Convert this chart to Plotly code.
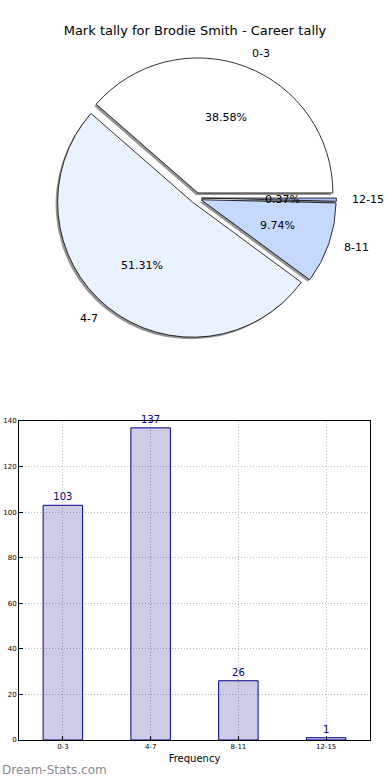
import math
import plotly.graph_objects as go

W, H = 390, 780
FONT = "DejaVu Sans"

# ---- data ----
categories = ["0-3", "4-7", "8-11", "12-15"]
counts = [103, 137, 26, 1]
pie_colors = ["#ffffff", "#ebf2ff", "#c5d9ff", "#a9c4ff"]
title_text = "Mark tally for Brodie Smith - Career tally"
y_ticks = [0, 20, 40, 60, 80, 100, 120, 140]

def X(px):
    return px / W

def Y(py):
    return 1 - py / H

total = sum(counts)
# matplotlib-style: first wedge starts at 3 o'clock, going counterclockwise
rot = 90 - 360 * counts[0] / total

# ---- pie geometry (window pixels) ----
cx, cy, R, pull = 196, 198, 135, 0.04
box = 2 * R * (1 + pull)
dom_x = [X(cx - box / 2), X(cx + box / 2)]
dom_y = [Y(cy + box / 2), Y(cy - box / 2)]
sx, sy = 2, 2  # shadow offset (left, down)
sdom_x = [X(cx - sx - box / 2), X(cx - sx + box / 2)]
sdom_y = [Y(cy + sy + box / 2), Y(cy + sy - box / 2)]

fig = go.Figure()

fig.add_trace(go.Pie(
    labels=categories, values=counts, sort=False, direction="counterclockwise",
    rotation=rot, pull=[pull] * len(counts), textinfo="none", hoverinfo="skip",
    marker=dict(colors=["rgba(60,60,60,0.55)"] * len(counts), line=dict(width=0)),
    domain=dict(x=sdom_x, y=sdom_y), showlegend=False,
))
fig.add_trace(go.Pie(
    labels=categories, values=counts, sort=False, direction="counterclockwise",
    rotation=rot, pull=[pull] * len(counts), textinfo="none", hoverinfo="skip",
    marker=dict(colors=pie_colors, line=dict(color="black", width=0.8)),
    domain=dict(x=dom_x, y=dom_y), showlegend=False,
))

annotations = []
start = 0.0
for lab, v in zip(categories, counts):
    frac = v / total
    mid = (start + frac / 2) * 2 * math.pi
    start += frac
    c, s = math.cos(mid), math.sin(mid)
    off = pull * R
    lx = cx + (1.1 * R + off) * c
    ly = cy - (1.1 * R + off) * s
    annotations.append(dict(
        x=X(lx), y=Y(ly), xref="paper", yref="paper", text=lab, showarrow=False,
        xanchor="left" if c > 0 else "right", yanchor="middle",
        font=dict(family=FONT, size=11, color="black"),
    ))
    px_ = cx + (0.6 * R + off) * c
    py_ = cy - (0.6 * R + off) * s
    annotations.append(dict(
        x=X(px_), y=Y(py_), xref="paper", yref="paper", text=f"{frac*100:.2f}%",
        showarrow=False, xanchor="center", yanchor="middle",
        font=dict(family=FONT, size=11, color="black"),
    ))

annotations.append(dict(
    x=X(0), y=Y(770), xref="paper", yref="paper", text="Dream-Stats.com",
    showarrow=False, xanchor="left", yanchor="middle",
    font=dict(family=FONT, size=12, color="#8c8c8c"),
))

# ---- bar chart ----
fig.add_trace(go.Bar(
    x=categories, y=counts, width=0.45, text=[str(v) for v in counts],
    textposition="outside", cliponaxis=False,
    textfont=dict(family=FONT, size=10, color="#00008b"),
    marker=dict(color="rgba(0,0,128,0.2)", line=dict(color="#00008b", width=1)),
    hoverinfo="skip", showlegend=False,
))

grid = dict(showgrid=True, gridcolor="#b8b8b8", griddash="1px,2px", gridwidth=1)
fig.update_layout(
    width=W, height=H, margin=dict(l=0, r=0, t=0, b=0, autoexpand=False),
    paper_bgcolor="white", plot_bgcolor="white",
    font=dict(family=FONT, color="black"),
    title=dict(text=title_text, x=X(195), xanchor="center", yref="paper",
               y=Y(30), yanchor="middle", font=dict(family=FONT, size=13, color="black")),
    annotations=annotations,
    xaxis=dict(domain=[X(19), X(370)], anchor="y", range=[-0.5, 3.5], automargin=False,
               showline=True, mirror=True, linecolor="black", linewidth=1,
               ticks="inside", ticklen=4, tickcolor="black",
               tickfont=dict(family=FONT, size=7, color="black"),
               title=dict(text="Frequency", font=dict(family=FONT, size=10, color="black"), standoff=4),
               **grid),
    yaxis=dict(domain=[Y(740), Y(421)], anchor="x", range=[0, 140], tickvals=y_ticks,
               automargin=False,
               showline=True, mirror=True, linecolor="black", linewidth=1,
               ticks="inside", ticklen=4, tickcolor="black",
               tickfont=dict(family=FONT, size=7, color="black"),
               zeroline=False, **grid),
)

# remove the browser's default 8px body margin so the figure fills the window
fig.write_html("out.html", config={"displayModeBar": False},
               post_script="document.body.style.margin='0px';")
